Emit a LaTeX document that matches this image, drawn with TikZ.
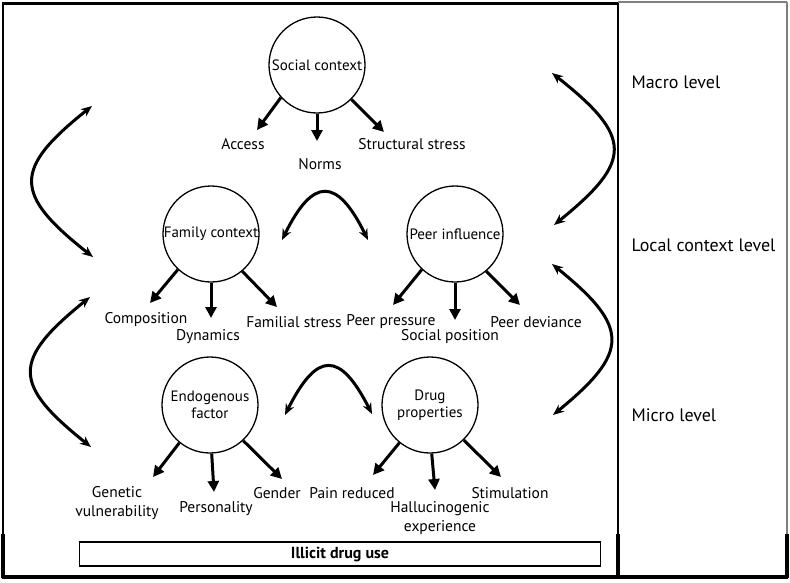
\documentclass[tikz,border=0pt]{standalone}
\usepackage{fontspec}
\setmainfont{PT Sans}
\usepackage{xcolor}
\usetikzlibrary{arrows.meta}

\begin{document}
\begin{tikzpicture}[x=1pt, y=-1pt,
  factor/.style={draw, circle, line width=1.3pt, minimum size=96pt, inner sep=0pt, align=center, font=\fontsize{15}{17}\selectfont},
  lbl/.style={align=center, font=\fontsize{15.5}{19}\selectfont},
  lvl/.style={anchor=west, font=\fontsize{18}{21}\selectfont},
  sub/.style={-{Triangle[length=11pt, width=11pt]}, line width=3pt},
  link/.style={{Stealth[length=11pt, width=9pt]}-{Stealth[length=11pt, width=9pt]}, line width=3pt}]
  \useasboundingbox (0,0) rectangle (790,582);

  % Frame of the two columns
  \draw[line width=1.5pt] (3,3) -- (3,578);
  \draw[line width=1.5pt] (618,3) -- (618,578);
  \draw[gray, line width=1.5pt] (787,2) -- (787,578);
  \draw[gray, line width=1.5pt] (618,2) -- (787,2);
  \draw[line width=3pt] (2,3) -- (618,3);
  \draw[line width=3.5pt] (2,577) -- (788,577);
  \draw[line width=4pt] (3,534) -- (3,578);
  \draw[line width=4pt] (618,534) -- (618,578);
  \draw[line width=4pt] (787,534) -- (787,578);

  % Factors
  \node[factor] (soc) at (317,65) {Social context};
  \node[factor] (fam) at (211,234) {Family context};
  \node[factor] (peer) at (455,234) {Peer influence};
  \node[factor] (endo) at (210,405) {Endogenous\\factor};
  \node[factor] (drug) at (430,405) {Drug\\properties};

  % Macro level
  \coordinate (socA) at (257,130);
  \coordinate (socB) at (317,141);
  \coordinate (socC) at (384,132);
  \draw[sub] (soc.-138) -- (socA);
  \draw[sub] (soc.south) -- (socB);
  \draw[sub] (soc.-45) -- (socC);
  \node[lbl] (access) at (243,144) {Access};
  \node[lbl] (norms) at (320,164) {Norms};
  \node[lbl] (stress) at (412,144) {Structural stress};

  % Local context level
  \coordinate (famA) at (150,303);
  \coordinate (famB) at (211,318);
  \coordinate (famC) at (277,307);
  \draw[sub] (fam.-133) -- (famA);
  \draw[sub] (fam.south) -- (famB);
  \draw[sub] (fam.-50) -- (famC);
  \node[lbl] (comp) at (146,320) {Composition};
  \node[lbl] (dyn) at (208,337) {Dynamics};
  \node[lbl] (famstress) at (294,322) {Familial stress};

  \coordinate (peerA) at (393,305);
  \coordinate (peerB) at (455,320);
  \coordinate (peerC) at (520,305);
  \draw[sub] (peer.-133) -- (peerA);
  \draw[sub] (peer.south) -- (peerB);
  \draw[sub] (peer.-50) -- (peerC);
  \node[lbl] (press) at (391,322) {Peer pressure};
  \node[lbl] (pos) at (450,337) {Social position};
  \node[lbl] (dev) at (536,322) {Peer deviance};

  % Micro level
  \coordinate (endoA) at (153,477);
  \coordinate (endoB) at (214,492);
  \coordinate (endoC) at (282,479);
  \draw[sub] (endo.-129) -- (endoA);
  \draw[sub] (endo.-88) -- (endoB);
  \draw[sub] (endo.-47) -- (endoC);
  \node[lbl] (gen) at (117,503) {Genetic\\vulnerability};
  \node[lbl] (pers) at (216,509) {Personality};
  \node[lbl] (gender) at (277,493) {Gender};

  \coordinate (drugA) at (373,475);
  \coordinate (drugB) at (435,490);
  \coordinate (drugC) at (501,477);
  \draw[sub] (drug.-129) -- (drugA);
  \draw[sub] (drug.-88) -- (drugB);
  \draw[sub] (drug.-46) -- (drugC);
  \node[lbl] (pain) at (352,493) {Pain reduced};
  \node[lbl] (hall) at (440,518) {Hallucinogenic\\experience};
  \node[lbl] (stim) at (510,493) {Stimulation};

  % Links inside a level
  \coordinate (famE) at (282,240);
  \coordinate (peerE) at (368,240);
  \draw[link] (famE) .. controls (313,177) and (337,177) .. (peerE);
  \coordinate (endoE) at (285,415);
  \coordinate (drugE) at (372,414);
  \draw[link] (endoE) .. controls (317,351) and (340,351) .. (drugE);

  % Links between levels
  \coordinate (ul1) at (92,106);
  \coordinate (ul2) at (93,257);
  \draw[link] (ul1) .. controls (13,169) and (13,194) .. (ul2);
  \coordinate (ll1) at (90,297);
  \coordinate (ll2) at (91,447);
  \draw[link] (ll1) .. controls (12,360) and (12,384) .. (ll2);
  \coordinate (ur1) at (552,73);
  \coordinate (ur2) at (554,225);
  \draw[link] (ur1) .. controls (633,137) and (633,161) .. (ur2);
  \coordinate (lr1) at (552,264);
  \coordinate (lr2) at (553,415);
  \draw[link] (lr1) .. controls (630,327) and (630,352) .. (lr2);

  % Levels
  \node[lvl] (macro) at (628,82) {Macro level};
  \node[lvl] (local) at (628,245) {Local context level};
  \node[lvl] (micro) at (628,415) {Micro level};

  % Outcome
  \node[draw, line width=1.2pt, minimum width=521pt, minimum height=24pt, inner sep=0pt, font=\fontsize{16}{18}\selectfont\bfseries] (use) at (340,554) {Illicit drug use};
\end{tikzpicture}
\end{document}
